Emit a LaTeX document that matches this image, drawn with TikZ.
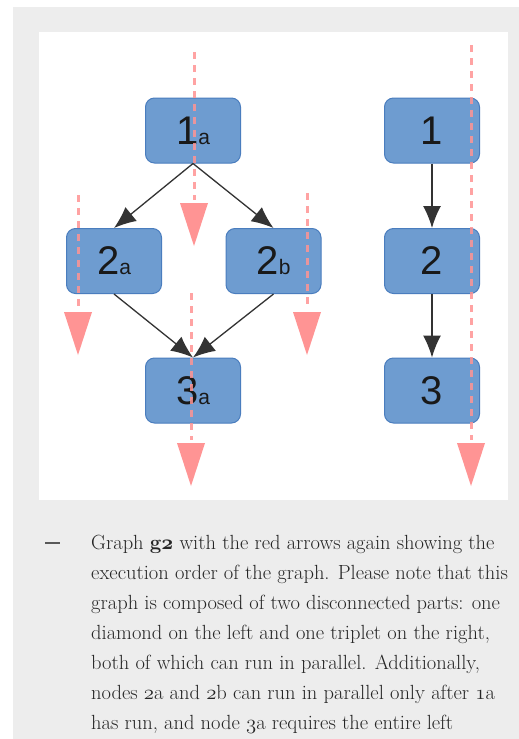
\documentclass[tikz,border=0pt]{standalone}
\usepackage{fontspec}
\newfontfamily\boxfont{Liberation Sans}
\usetikzlibrary{arrows.meta}
\definecolor{panelgray}{HTML}{EDEDED}
\definecolor{boxblue}{HTML}{6E9CD0}
\definecolor{boxedge}{HTML}{4A7DBE}
\definecolor{execred}{HTML}{FF9494}
\definecolor{captiongray}{HTML}{262626}
\newcommand\boxsub[1]{{\fontsize{21}{21}\selectfont #1}}
\newcommand\osf[1]{{\usefont{OML}{cmm}{m}{it}#1}}
\newcommand\osfbold[1]{{\usefont{OML}{cmm}{b}{it}#1}}
\tikzset{
  task/.style={draw=boxedge, fill=boxblue, line width=1pt, rounded corners=9pt,
    minimum width=95pt, minimum height=65pt, inner sep=0pt,
    font=\boxfont\fontsize{40}{40}\selectfont, text=black!90},
  dep/.style={draw=black!80, line width=1.3pt, -{Latex[length=22pt,width=18pt]}},
  execline/.style={draw=execred, line width=3pt, dash pattern=on 7pt off 6pt, opacity=0.85},
  caption/.style={anchor=base west, inner sep=0pt, text=captiongray,
    font=\fontsize{20.5}{30}\selectfont},
}
\begin{document}
\begin{tikzpicture}[x=1pt,y=-1pt]
\useasboundingbox (0,0) rectangle (519,739);
\fill[panelgray] (13,7) rectangle (519,739);
\fill[white] (39,32) rectangle (508,500);

% diamond on the left
\node[task] (n1a) at (193,130.5) {1\boxsub{a}};
\node[task] (n2a) at (114,261) {2\boxsub{a}};
\node[task] (n2b) at (273.5,261) {2\boxsub{b}};
\node[task] (n3a) at (193,390.5) {3\boxsub{a}};
% triplet on the right
\node[task] (n1) at (432,130.5) {1};
\node[task] (n2) at (432,261) {2};
\node[task] (n3) at (432,390.5) {3};

\draw[dep] (n1a.south) -- (n2a.north);
\draw[dep] (n1a.south) -- (n2b.north);
\draw[dep] (n2a.south) -- (n3a.north);
\draw[dep] (n2b.south) -- (n3a.north);
\draw[dep] (n1.south) -- (n2.north);
\draw[dep] (n2.south) -- (n3.north);

% execution order
\foreach \x/\ya/\yb in {194/52/203, 78/195/312, 307/193/312, 191/293/443, 471/45/443} {
  \draw[execline] (\x,\ya) -- (\x,\yb-3);
  \fill[execred] (\x-14,\yb) -- (\x+14,\yb) -- (\x,\yb+43) -- cycle;
}

% caption
\node[caption, text=black!65] (dash) at (45,549) {\rule[5.5pt]{15pt}{1.6pt}};
\node[caption] (cap1) at (91,549) {Graph \textbf{g\osfbold{2}} with the red arrows again showing the};
\node[caption] (cap2) at (91,579) {execution order of the graph. Please note that this};
\node[caption] (cap3) at (91,609) {graph is composed of two disconnected parts: one};
\node[caption] (cap4) at (91,639) {diamond on the left and one triplet on the right,};
\node[caption] (cap5) at (91,669) {both of which can run in parallel. Additionally,};
\node[caption] (cap6) at (91,699) {nodes \osf{2}a and \osf{2}b can run in parallel only after \osf{1}a};
\node[caption] (cap7) at (91,729) {has run, and node \osf{3}a requires the entire left};
\end{tikzpicture}
\end{document}
